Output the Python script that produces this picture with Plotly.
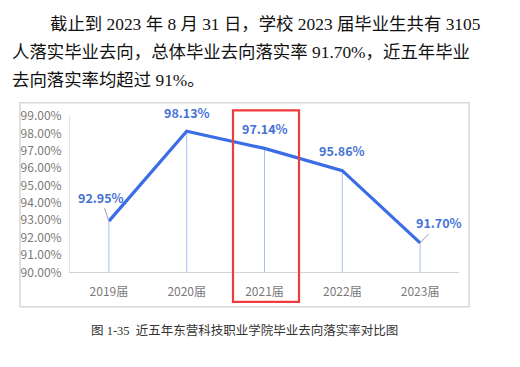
import plotly.graph_objects as go

categories = ["2019届", "2020届", "2021届", "2022届", "2023届"]
rates = [92.95, 98.13, 97.14, 95.86, 91.70]
y_ticks = [90, 91, 92, 93, 94, 95, 96, 97, 98, 99]
y_tick_labels = ["%.2f%%" % v for v in y_ticks]
para_lines = [
    "截止到 2023 年 8 月 31 日，学校 2023 届毕业生共有 3105",
    "人落实毕业去向，总体毕业去向落实率 91.70%，近五年毕业",
    "去向落实率均超过 91%。",
]
caption = "图 1-35  近五年东营科技职业学院毕业去向落实率对比图"

# page body has an 8px default margin
OFF = 8
W, H = 520 - OFF, 367 - OFF
def px(x): return (x - OFF) / W
def py(y): return 1 - (y - OFF) / H

LINE = "#3b6de6"
LABEL = "#4672d6"
GRAY = "#7a7a7a"

fig = go.Figure()

# drop lines from each point down to the axis
dx, dy = [], []
for c, v in zip(categories, rates):
    dx += [c, c, None]
    dy += [y_ticks[0], v, None]
fig.add_trace(go.Scatter(x=dx, y=dy, mode="lines",
                         line=dict(color="#a9bdf0", width=1),
                         hoverinfo="skip", showlegend=False))

fig.add_trace(go.Scatter(x=categories, y=rates, mode="lines",
                         line=dict(color=LINE, width=3.2),
                         showlegend=False))

# data labels
lab_font = dict(family="Noto Sans CJK SC", size=12.5, color=LABEL, weight="bold")
offsets = {0: (-8, -24, True), 1: (0, -19, False), 2: (0, -20, False),
           3: (0, -20, False), 4: (19, -20, True)}
for i, (c, v) in enumerate(zip(categories, rates)):
    ax, ay, arrow = offsets[i]
    if arrow:
        fig.add_annotation(x=c, y=v, xref="x", yref="y", text="%.2f%%" % v,
                           showarrow=True, ax=ax, ay=ay, arrowhead=0,
                           arrowwidth=1, arrowcolor="#a0a0a0", standoff=0,
                           font=lab_font)
    else:
        fig.add_annotation(x=c, y=v, xref="x", yref="y", text="%.2f%%" % v,
                           showarrow=False, yshift=-ay, font=lab_font)

# paragraph text
para_font = dict(family="Liberation Serif, Noto Sans CJK SC", size=17.4, color="#111111")
starts = [(48, 14), (10, 44), (10, 73)]
for (x0, yc), t in zip(starts, para_lines):
    fig.add_annotation(x=px(x0), y=py(yc), xref="paper", yref="paper", text=t,
                       showarrow=False, xanchor="left", yanchor="middle", font=para_font)

fig.add_annotation(x=px(244), y=py(336), xref="paper", yref="paper", text=caption,
                   showarrow=False, xanchor="center", yanchor="middle",
                   font=dict(family="Liberation Serif, Noto Sans CJK SC", size=12.5, color="#333333"))

# chart frame
fig.add_shape(type="rect", xref="paper", yref="paper",
              x0=px(20), x1=px(469), y0=py(311), y1=py(97),
              line=dict(color="#d8d8d8", width=1.5), fillcolor="rgba(0,0,0,0)", layer="below")
# red highlight box
fig.add_shape(type="rect", xref="paper", yref="paper",
              x0=px(233), x1=px(299), y0=py(306), y1=py(105),
              line=dict(color="#ef3b3b", width=2.2))

fig.update_layout(
    width=W, height=H, margin=dict(l=0, r=0, t=0, b=0),
    paper_bgcolor="white", plot_bgcolor="white",
    xaxis=dict(domain=[px(70), px(459)], type="category", range=[-0.5, 4.5],
               showgrid=False, showline=True, linecolor="#d4d4d4", linewidth=1,
               ticks="", zeroline=False, ticklabelstandoff=8,
               tickfont=dict(family="Noto Sans CJK SC", size=12, color=GRAY)),
    yaxis=dict(domain=[py(275), py(111)], range=[90, 99],
               tickvals=y_ticks, ticktext=y_tick_labels,
               showgrid=False, showline=True, linecolor="#e2e2e2", linewidth=1,
               ticks="", zeroline=False, ticklabelstandoff=5,
               tickfont=dict(family="Noto Sans CJK SC", size=12, color=GRAY)),
)

fig.write_html("out.html")
